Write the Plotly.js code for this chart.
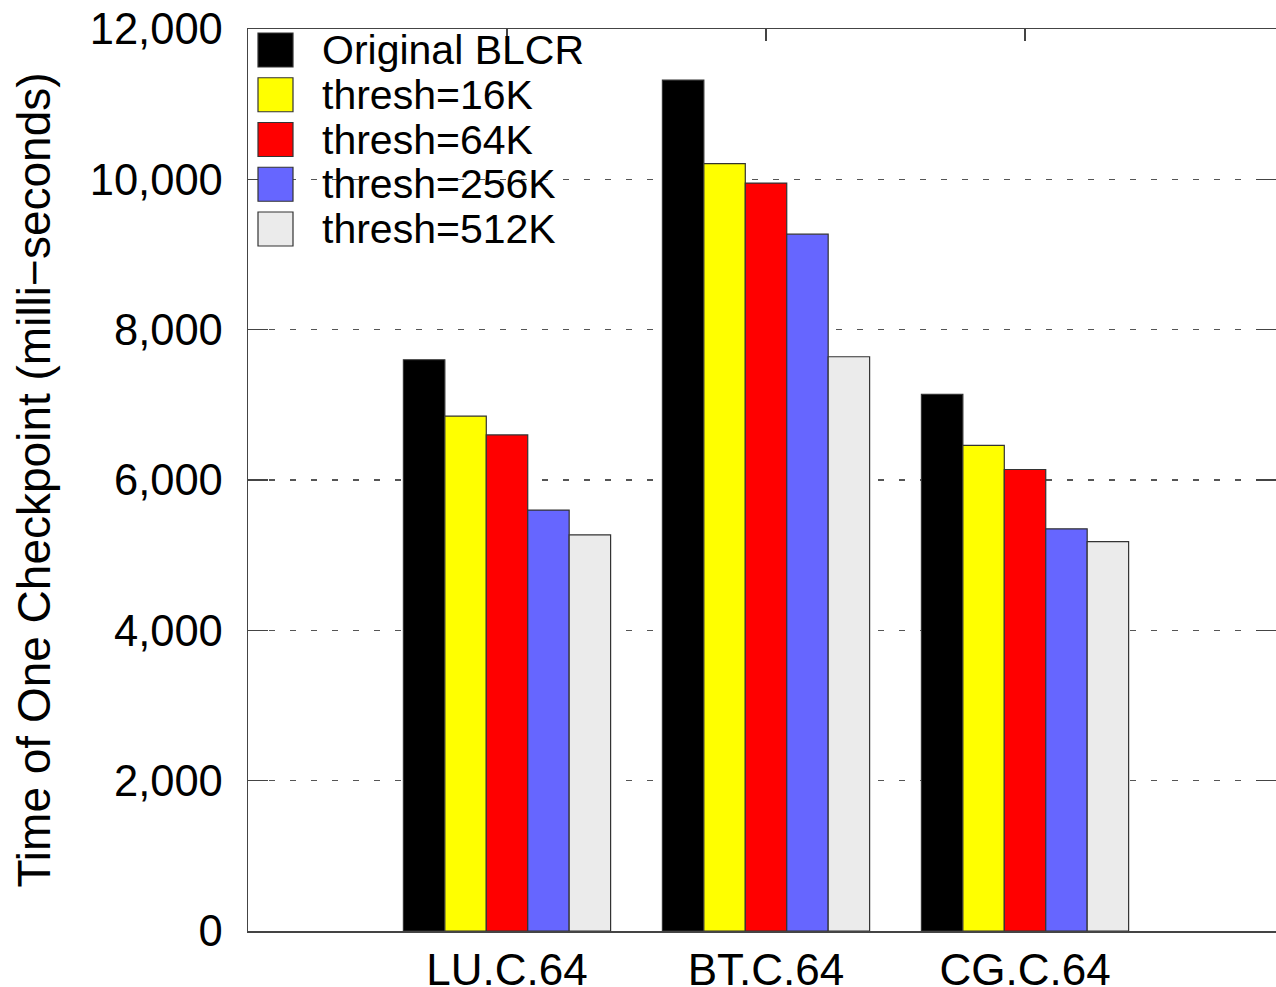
<!DOCTYPE html>
<html>
<head>
<meta charset="utf-8">
<script src="https://cdn.plot.ly/plotly-3.0.1.min.js"></script>
<style>html,body{margin:0;padding:0;background:#fff;}</style>
</head>
<body>
<div id="chart" style="width:1276px;height:987px;"></div>
<script>
const categories = ["LU.C.64", "BT.C.64", "CG.C.64"];
const seriesNames = ["Original BLCR", "thresh=16K", "thresh=64K", "thresh=256K", "thresh=512K"];
const originalBLCR = [7600, 11320, 7140];
const thresh16K = [6850, 10210, 6460];
const thresh64K = [6600, 9950, 6140];
const thresh256K = [5600, 9270, 5350];
const thresh512K = [5270, 7640, 5180];
const yTickVals = [0, 2000, 4000, 6000, 8000, 10000, 12000];

const seriesValues = [originalBLCR, thresh16K, thresh64K, thresh256K, thresh512K];
const colors = ["#000000", "#ffff00", "#ff0000", "#6666ff", "#ebebeb"];
const FONT = "Liberation Sans, Arial, Helvetica, sans-serif";

const traces = seriesValues.map((vals, i) => ({
  type: "bar",
  name: seriesNames[i],
  x: categories,
  y: vals,
  marker: { color: colors[i], line: { color: "#333333", width: 1.2 } },
  showlegend: false,
  hoverinfo: "x+y+name"
}));

// plot area geometry (pixels)
const L = 248, T = 29, W = 1028, H = 902;
const shapes = [];
const annotations = [];
const rowStart = 50, rowStep = 44.75;
seriesNames.forEach((name, i) => {
  const cy = rowStart + i * rowStep;
  const py = v => (T + H - v) / H;
  shapes.push({
    type: "rect", xref: "paper", yref: "paper",
    x0: (258 - L) / W, x1: (293 - L) / W,
    y0: py(cy + 17), y1: py(cy - 17),
    fillcolor: colors[i], line: { color: "#333333", width: 1.2 }, layer: "above"
  });
  annotations.push({
    xref: "paper", yref: "paper",
    x: (320 - L) / W, y: py(cy),
    xanchor: "left", yanchor: "middle",
    text: name, showarrow: false,
    font: { family: FONT, size: 41, color: "#000" }
  });
});

const layout = {
  width: 1276, height: 987,
  margin: { l: 248, r: 0, t: 29, b: 56, pad: 0 },
  paper_bgcolor: "#fff", plot_bgcolor: "#fff",
  barmode: "group", bargap: 0.2, bargroupgap: 0,
  font: { family: FONT, color: "#000" },
  xaxis: {
    type: "category",
    range: [-1, 2.969],
    showline: true, linecolor: "#444", linewidth: 1.5,
    mirror: "ticks",
    ticks: "inside", ticklen: 12, tickcolor: "#444", tickwidth: 1.2,
    showgrid: false, zeroline: false,
    layer: "below traces",
    tickfont: { family: FONT, size: 44, color: "#000" },
    ticklabelstandoff: 0
  },
  yaxis: {
    range: [0, 12000],
    tickvals: yTickVals,
    tickformat: ",d",
    showline: true, linecolor: "#444", linewidth: 1.5,
    mirror: "ticks",
    ticks: "inside", ticklen: 20, tickcolor: "#444", tickwidth: 1.2,
    showgrid: true, gridcolor: "#555", gridwidth: 1.2, griddash: "6px,15px",
    zeroline: false,
    tickfont: { family: FONT, size: 43.5, color: "#000" },
    ticklabelstandoff: 15,
    title: { text: "Time of One Checkpoint (milli\u2212seconds)", font: { family: FONT, size: 46, color: "#000" }, standoff: 24 }
  },
  shapes: shapes,
  annotations: annotations
};

Plotly.newPlot("chart", traces, layout, { displayModeBar: false, staticPlot: true });
</script>
</body>
</html>
